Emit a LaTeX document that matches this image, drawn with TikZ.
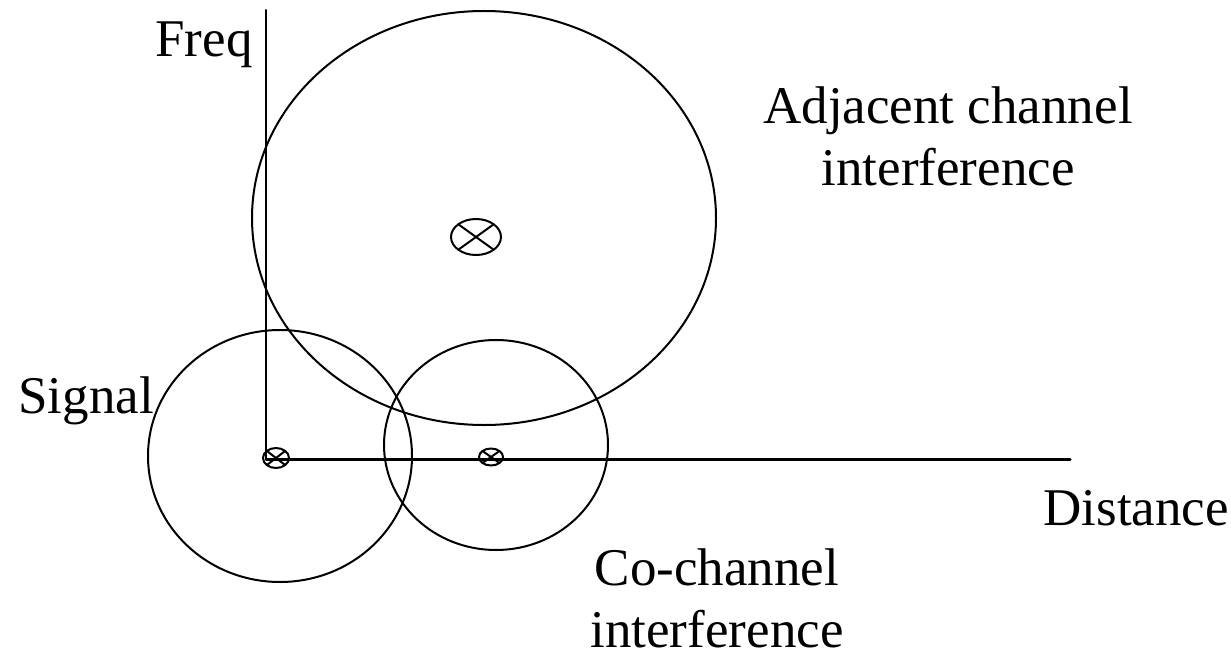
\documentclass[tikz,border=0pt]{standalone}
\usepackage{fontspec}
\setmainfont{Liberation Serif}
\begin{document}
\begin{tikzpicture}[x=0.5pt,y=-0.5pt,line join=round,line cap=round,
	font=\fontsize{26.5}{31}\selectfont,
	zone/.style={line width=1pt},
	lbl/.style={inner sep=0pt,align=center}]
	\useasboundingbox (0,0) rectangle (1231,658);
	% axes
	\coordinate (O) at (266,459);
	\coordinate (ytop) at (266,10);
	\coordinate (xend) at (1070,459);
	\draw[line width=1pt] (O) -- (ytop);
	\draw[line width=1.5pt] (O) -- (xend);
	% coverage areas
	\draw[zone] (484,218) ellipse[x radius=232,y radius=207];
	\draw[zone] (280,456) ellipse[x radius=132,y radius=126];
	\draw[zone] (496,445) ellipse[x radius=112,y radius=105];
	% transmitters
	\foreach \cx/\cy/\rx/\ry in {276/458/13/10,491/457/12/8.5,476/237/25/18}{
		\draw[line width=1pt] (\cx,\cy) ellipse[x radius=\rx,y radius=\ry];
		\draw[line width=1pt] ({\cx-0.707*\rx},{\cy-0.707*\ry}) -- ({\cx+0.707*\rx},{\cy+0.707*\ry});
		\draw[line width=1pt] ({\cx-0.707*\rx},{\cy+0.707*\ry}) -- ({\cx+0.707*\rx},{\cy-0.707*\ry});
	}
	% labels
	\node[lbl,anchor=base west] (freq) at (155,57) {Freq};
	\node[lbl,anchor=base west] (sig) at (18,413) {Signal};
	\node[lbl,anchor=base west] (dist) at (1043,525) {Distance};
	\node[lbl,anchor=base] (adj) at (948,185) {Adjacent channel\\interference};
	\node[lbl,anchor=base] (cochan) at (717,647) {Co-channel\\interference};
\end{tikzpicture}
\end{document}
